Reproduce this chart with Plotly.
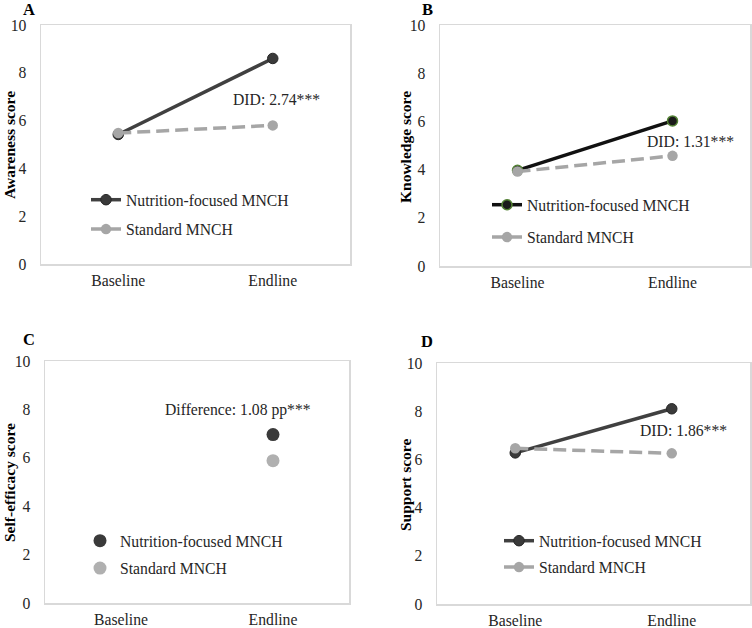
import plotly.graph_objects as go

# ---------------- data ----------------
categories = ["Baseline", "Endline"]
series_names = ["Nutrition-focused MNCH", "Standard MNCH"]

awareness_nutrition = [5.42, 8.60]
awareness_standard = [5.48, 5.80]
knowledge_nutrition = [3.97, 6.02]
knowledge_standard = [3.92, 4.57]
selfefficacy_nutrition = [None, 6.96]
selfefficacy_standard = [None, 5.88]
support_nutrition = [6.27, 8.10]
support_standard = [6.46, 6.25]

y_tick_values = [0, 2, 4, 6, 8, 10]
panel_letters = ["A", "B", "C", "D"]
y_titles = ["Awareness score", "Knowledge score", "Self-efficacy score", "Support score"]
effect_labels = ["DID: 2.74***", "DID: 1.31***", "Difference: 1.08 pp***", "DID: 1.86***"]

# ---------------- layout helpers ----------------
W, H = 752, 628
FONT = "Liberation Serif, Times New Roman, Times, serif"
FS = 15.7
TXT = "#262626"


def px_x(v):
    return v / W


def px_y(v):
    return 1 - v / H


# plot boxes in pixels: (left, right, top, bottom)
boxes = [(41, 350, 25, 264), (440, 750, 25, 266), (45, 349, 361, 603), (437, 750, 363, 604)]

fig = go.Figure()

NUT_DARK = "#404040"
STD_GRAY = "#a6a6a6"

panels = [
    (awareness_nutrition, awareness_standard, "lines+markers"),
    (knowledge_nutrition, knowledge_standard, "lines+markers"),
    (selfefficacy_nutrition, selfefficacy_standard, "markers"),
    (support_nutrition, support_standard, "lines+markers"),
]

legend_names = ["legend", "legend2", "legend3", "legend4"]

for i, (nut, std, mode) in enumerate(panels):
    xa = "x" if i == 0 else f"x{i+1}"
    ya = "y" if i == 0 else f"y{i+1}"
    if i == 1:
        nut_line = "#111111"
        nut_marker = dict(size=10, color="#1a1a1a", line=dict(color="#548235", width=1.5))
    elif i == 2:
        nut_line = NUT_DARK
        nut_marker = dict(size=13, color="#3a3a3a", line=dict(width=0))
    else:
        nut_line = NUT_DARK
        nut_marker = dict(size=10.5, color="#3a3a3a", line=dict(color="#262626", width=1))
    std_marker = dict(size=13 if i == 2 else 10.5, color=STD_GRAY if i != 2 else "#b0b0b0",
                      line=dict(width=0))
    fig.add_trace(go.Scatter(
        x=categories, y=nut, mode=mode, name=series_names[0],
        line=dict(color=nut_line, width=3.5), marker=nut_marker,
        xaxis=xa, yaxis=ya, legend=legend_names[i], legendgroup=f"n{i}",
    ))
    fig.add_trace(go.Scatter(
        x=categories, y=std, mode=mode, name=series_names[1],
        line=dict(color=STD_GRAY, width=3.5, dash="13px,6px"), marker=std_marker,
        xaxis=xa, yaxis=ya, legend=legend_names[i], legendgroup=f"s{i}",
    ))

layout = dict(
    template="none",
    width=W, height=H,
    margin=dict(l=0, r=0, t=0, b=0, pad=0, autoexpand=False),
    paper_bgcolor="white", plot_bgcolor="white",
    font=dict(family=FONT, size=FS, color=TXT),
)

for i, (l, r, t, b) in enumerate(boxes):
    xk = "xaxis" if i == 0 else f"xaxis{i+1}"
    yk = "yaxis" if i == 0 else f"yaxis{i+1}"
    anchor_x = "y" if i == 0 else f"y{i+1}"
    anchor_y = "x" if i == 0 else f"x{i+1}"
    tf = dict(family=FONT, size=FS, color=TXT)
    layout[xk] = dict(
        domain=[px_x(l), px_x(r)], anchor=anchor_x, type="category",
        categoryorder="array", categoryarray=categories, automargin=False,
        range=[-0.5, 1.5], showgrid=False, zeroline=False,
        showline=True, mirror=True, linecolor="#d9d9d9", linewidth=1.5,
        ticks="outside", ticklen=2, tickcolor="rgba(0,0,0,0)",
        tickfont=tf, fixedrange=True,
    )
    layout[yk] = dict(
        domain=[px_y(b), px_y(t)], anchor=anchor_y, automargin=False,
        range=[0, 10], tickvals=y_tick_values, showgrid=False, zeroline=False,
        showline=True, mirror=True, linecolor="#d9d9d9", linewidth=1.5,
        ticks="outside", ticklen=10, tickcolor="rgba(0,0,0,0)",
        tickfont=tf, fixedrange=True,
    )

# legends: (marker-centre x px, top y px, group gap)
legend_pos = [(106, 183, 6), (507, 188, 9), (100, 524, 4), (519, 524, 3)]
for i, (mx, ty, gap) in enumerate(legend_pos):
    layout[legend_names[i]] = dict(
        x=px_x(mx - 20), y=px_y(ty), xanchor="left", yanchor="top",
        bgcolor="rgba(0,0,0,0)", borderwidth=0,
        font=dict(family=FONT, size=FS, color=TXT),
        traceorder="grouped", tracegroupgap=gap,
    )

annotations = []
letter_pos = [(29, 10), (427, 10), (29, 339), (427, 341)]
ytitle_pos = [(9, 145), (405, 147), (9, 483), (405, 485)]
effect_pos = [(276, 99), (690, 141), (238, 410), (683, 430)]
for i in range(4):
    lx, ly = letter_pos[i]
    annotations.append(dict(
        text=f"<b>{panel_letters[i]}</b>", x=px_x(lx), y=px_y(ly), xref="paper", yref="paper",
        xanchor="center", yanchor="middle", showarrow=False,
        font=dict(family=FONT, size=16.5, color="#000000"),
    ))
    tx, tyy = ytitle_pos[i]
    annotations.append(dict(
        text=f"<b>{y_titles[i]}</b>", x=px_x(tx), y=px_y(tyy), xref="paper", yref="paper",
        xanchor="center", yanchor="middle", showarrow=False, textangle=-90,
        font=dict(family=FONT, size=15.5, color="#000000"),
    ))
    ex, ey = effect_pos[i]
    annotations.append(dict(
        text=effect_labels[i], x=px_x(ex), y=px_y(ey), xref="paper", yref="paper",
        xanchor="center", yanchor="middle", showarrow=False,
        font=dict(family=FONT, size=FS, color=TXT),
    ))
layout["annotations"] = annotations

fig.update_layout(**layout)
fig.write_html(
    "out.html",
    config={"displayModeBar": False, "staticPlot": True},
    post_script="document.body.style.margin='0px';",
)
